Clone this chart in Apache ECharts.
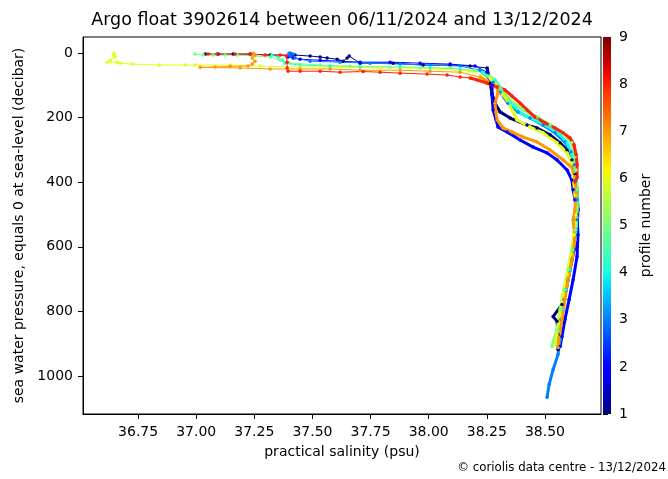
<!DOCTYPE html>
<html><head><meta charset="utf-8">
<script src="https://cdn.jsdelivr.net/npm/echarts@6/dist/echarts.min.js"></script>
<style>html,body{margin:0;padding:0;background:#fff}#c{width:668px;height:479px}</style>
</head><body><div id="c"></div>
<script>
// ---- data: [practical salinity (psu), pressure (decibar)] per profile ----
const profileNumbers = [1, 2, 3, 4, 5, 6, 7, 8];
const profile1 = [[37.039,3],[37.094,3],[37.159,3],[37.232,3],[37.318,6],[37.425,6],[37.490,9],[37.533,12],[37.563,15],[37.606,19],[37.632,25],[37.649,15],[37.658,9],[37.705,31],[37.847,31],[37.976,37],[38.092,37],[38.178,40],[38.251,46],[38.264,93],[38.272,124],[38.285,155],[38.307,182],[38.350,201],[38.423,223],[38.466,232],[38.522,253],[38.565,278],[38.595,300],[38.616,331],[38.629,377],[38.638,423],[38.642,485],[38.638,547],[38.625,609],[38.608,671],[38.591,733],[38.573,779],[38.535,816],[38.552,831],[38.556,872],[38.556,918]];
const profile2 = [[37.404,0],[37.413,6],[37.395,12],[37.417,15],[37.447,19],[37.533,22],[37.619,25],[37.705,28],[37.834,28],[37.963,31],[38.092,34],[38.199,40],[38.251,59],[38.273,99],[38.272,130],[38.277,176],[38.290,207],[38.298,229],[38.337,244],[38.393,269],[38.449,291],[38.509,309],[38.552,331],[38.595,362],[38.616,393],[38.621,423],[38.629,454],[38.638,501],[38.642,563],[38.638,630],[38.621,702],[38.604,763],[38.586,825],[38.573,878],[38.565,909]];
const profile3 = [[37.399,0],[37.417,3],[37.404,9],[37.425,15],[37.490,25],[37.619,28],[37.748,31],[37.877,34],[38.006,37],[38.135,40],[38.221,53],[38.277,90],[38.307,121],[38.341,155],[38.384,182],[38.436,201],[38.492,223],[38.543,247],[38.586,275],[38.612,306],[38.625,346],[38.634,393],[38.638,454],[38.638,516],[38.629,578],[38.616,640],[38.599,702],[38.582,763],[38.569,825],[38.565,887],[38.556,934],[38.535,980],[38.518,1026],[38.509,1066]];
const profile4 = [[37.326,6],[37.352,12],[37.369,22],[37.382,31],[37.447,37],[37.576,40],[37.705,43],[37.877,43],[38.006,46],[38.135,49],[38.230,59],[38.285,83],[38.315,114],[38.350,152],[38.401,189],[38.466,210],[38.522,232],[38.565,253],[38.595,278],[38.616,315],[38.629,362],[38.638,423],[38.638,485],[38.634,547],[38.621,609],[38.608,671],[38.591,733],[38.573,794],[38.556,856],[38.543,903]];
const profile5 = [[36.995,3],[37.030,6],[37.073,6],[37.124,6],[37.176,6],[37.253,9],[37.318,12],[37.361,22],[37.404,31],[37.533,37],[37.662,40],[37.834,43],[37.963,46],[38.092,46],[38.199,53],[38.264,71],[38.307,108],[38.350,145],[38.406,176],[38.466,198],[38.522,223],[38.578,247],[38.616,278],[38.629,321],[38.634,362],[38.638,423],[38.638,485],[38.629,547],[38.616,609],[38.599,671],[38.582,733],[38.565,794],[38.552,856],[38.530,909]];
const profile6 = [[36.647,0],[36.643,6],[36.652,12],[36.630,22],[36.617,28],[36.660,28],[36.673,31],[36.725,34],[36.841,37],[36.953,37],[36.995,37],[37.146,37],[37.275,40],[37.447,43],[37.619,43],[37.791,46],[37.920,46],[38.049,49],[38.178,56],[38.264,77],[38.320,130],[38.337,145],[38.358,176],[38.380,207],[38.436,229],[38.492,247],[38.552,278],[38.595,309],[38.616,340],[38.621,383],[38.629,439],[38.634,501],[38.625,563],[38.612,624],[38.595,686],[38.578,748],[38.565,810],[38.552,872],[38.543,903]];
const profile7 = [[37.245,0],[37.253,6],[37.241,15],[37.253,25],[37.241,34],[37.223,40],[37.146,41],[37.082,43],[37.017,44],[37.189,46],[37.318,49],[37.447,49],[37.576,49],[37.705,53],[37.877,53],[38.006,56],[38.135,59],[38.221,74],[38.294,105],[38.298,124],[38.285,155],[38.289,182],[38.294,207],[38.320,232],[38.358,244],[38.406,260],[38.466,275],[38.522,300],[38.578,331],[38.616,355],[38.629,383],[38.634,433],[38.629,485],[38.621,516],[38.629,578],[38.616,640],[38.599,702],[38.586,763],[38.573,825],[38.560,887],[38.556,912]];
const profile8 = [[37.051,3],[37.090,3],[37.167,3],[37.232,3],[37.296,6],[37.361,6],[37.387,9],[37.391,28],[37.391,46],[37.395,56],[37.447,56],[37.533,56],[37.619,59],[37.718,57],[37.791,59],[37.877,62],[37.993,65],[38.079,68],[38.135,74],[38.178,77],[38.208,83],[38.251,93],[38.294,105],[38.328,114],[38.358,133],[38.393,155],[38.423,176],[38.457,198],[38.500,216],[38.543,232],[38.578,247],[38.608,263],[38.625,284],[38.634,315],[38.638,346],[38.638,386],[38.629,399]];

const xTicks = [36.75, 37.00, 37.25, 37.50, 37.75, 38.00, 38.25, 38.50];
const yTicks = [0, 200, 400, 600, 800, 1000];
const cbarTicks = [1, 2, 3, 4, 5, 6, 7, 8, 9];
const cbarMin = 1, cbarMax = 9;

const titleText = 'Argo float 3902614 between 06/11/2024 and 13/12/2024';
const footerText = '\u00a9 coriolis data centre - 13/12/2024';

// ---- jet colormap ----
function interp(t, pts) {
  for (let i = 1; i < pts.length; i++) {
    if (t <= pts[i][0]) {
      const a = pts[i - 1], b = pts[i];
      return a[1] + (b[1] - a[1]) * (t - a[0]) / (b[0] - a[0]);
    }
  }
  return pts[pts.length - 1][1];
}
function jet(t) {
  const r = interp(t, [[0,0],[0.35,0],[0.66,1],[0.89,1],[1,0.5]]);
  const g = interp(t, [[0,0],[0.125,0],[0.375,1],[0.64,1],[0.91,0],[1,0]]);
  const b = interp(t, [[0,0.5],[0.11,1],[0.34,1],[0.65,0],[1,0]]);
  return 'rgb(' + Math.round(r*255) + ',' + Math.round(g*255) + ',' + Math.round(b*255) + ')';
}

const FONT = 'DejaVu Sans';
const profiles = [profile1, profile2, profile3, profile4, profile5, profile6, profile7, profile8];
const series = [];
profiles.forEach((pr, i) => {
  const color = jet((profileNumbers[i] - cbarMin) / (cbarMax - cbarMin));
  series.push({
    type: 'line', xAxisIndex: 0, yAxisIndex: 0, data: pr,
    symbol: 'circle', symbolSize: 3.5, showAllSymbol: true,
    lineStyle: { width: 1, color: color }, itemStyle: { color: color },
    animation: false, silent: true
  });
  const k = pr.findIndex(d => d[1] >= 80);
  series.push({
    type: 'line', xAxisIndex: 0, yAxisIndex: 0, data: pr.slice(Math.max(0, k - 1)),
    symbol: 'none', lineStyle: { width: 3, color: color },
    animation: false, silent: true
  });
});

// colour bar drawn through its own axis
const stops = [];
for (let i = 0; i <= 40; i++) stops.push({ offset: i / 40, color: jet(i / 40) });
series.push({
  type: 'custom', xAxisIndex: 1, yAxisIndex: 1, data: [[0, cbarMin, cbarMax]], silent: true, animation: false,
  renderItem: function (params, api) {
    const p0 = api.coord([0, cbarMax]);
    const p1 = api.coord([1, cbarMin]);
    return {
      type: 'rect',
      shape: { x: p0[0], y: p0[1], width: p1[0] - p0[0], height: p1[1] - p0[1] },
      style: { fill: new echarts.graphic.LinearGradient(0, 1, 0, 0, stops) }
    };
  }
});

const axisTxt = { fontFamily: FONT, fontSize: 14, color: '#000' };
const chart = echarts.init(document.getElementById('c'), null, { renderer: 'canvas' });
chart.setOption({
  backgroundColor: '#fff',
  animation: false,
  grid: [
    { left: 83, top: 37, width: 518, height: 377, show: true, borderColor: '#000', borderWidth: 1, backgroundColor: 'transparent' },
    { left: 603, top: 37, width: 8, height: 377 }
  ],
  xAxis: [
    {
      type: 'value', gridIndex: 0, min: 36.513, max: 38.741,
      name: 'practical salinity (psu)', nameLocation: 'middle', nameGap: 31,
      nameTextStyle: axisTxt,
      axisLine: { show: true, onZero: false, lineStyle: { color: '#000', width: 1 } },
      axisTick: { show: true, length: 5, customValues: xTicks, lineStyle: { color: '#000' } },
      axisLabel: Object.assign({ customValues: xTicks, margin: 11, formatter: v => v.toFixed(2) }, axisTxt),
      splitLine: { show: false }
    },
    { type: 'value', gridIndex: 1, min: 0, max: 1, show: false }
  ],
  yAxis: [
    {
      type: 'value', gridIndex: 0, inverse: true, min: -50, max: 1118,
      name: 'sea water pressure, equals 0 at sea-level (decibar)', nameLocation: 'middle', nameGap: 47, nameRotate: 90,
      nameTextStyle: axisTxt,
      axisLine: { show: true, onZero: false, lineStyle: { color: '#000', width: 1 } },
      axisTick: { show: true, length: 5, customValues: yTicks, lineStyle: { color: '#000' } },
      axisLabel: Object.assign({ customValues: yTicks, margin: 10, formatter: v => String(v) }, axisTxt),
      splitLine: { show: false }
    },
    {
      type: 'value', gridIndex: 1, min: cbarMin, max: cbarMax, interval: 1, position: 'right',
      name: 'profile number', nameLocation: 'middle', nameGap: 28, nameRotate: 90,
      nameTextStyle: axisTxt,
      axisLine: { show: false },
      axisTick: { show: true, length: 5, customValues: cbarTicks, lineStyle: { color: '#000' } },
      axisLabel: Object.assign({ customValues: cbarTicks, margin: 8, formatter: v => String(v) }, axisTxt),
      splitLine: { show: false }
    }
  ],
  graphic: [
    { type: 'text', x: 342, y: 20, style: { text: titleText, font: '17.5px "DejaVu Sans"', fill: '#000', textAlign: 'center', textVerticalAlign: 'middle' } },
    { type: 'text', x: 666, y: 468, style: { text: footerText, font: '11.8px "DejaVu Sans"', fill: '#000', textAlign: 'right', textVerticalAlign: 'middle' } }
  ],
  series: series
});
</script></body></html>
